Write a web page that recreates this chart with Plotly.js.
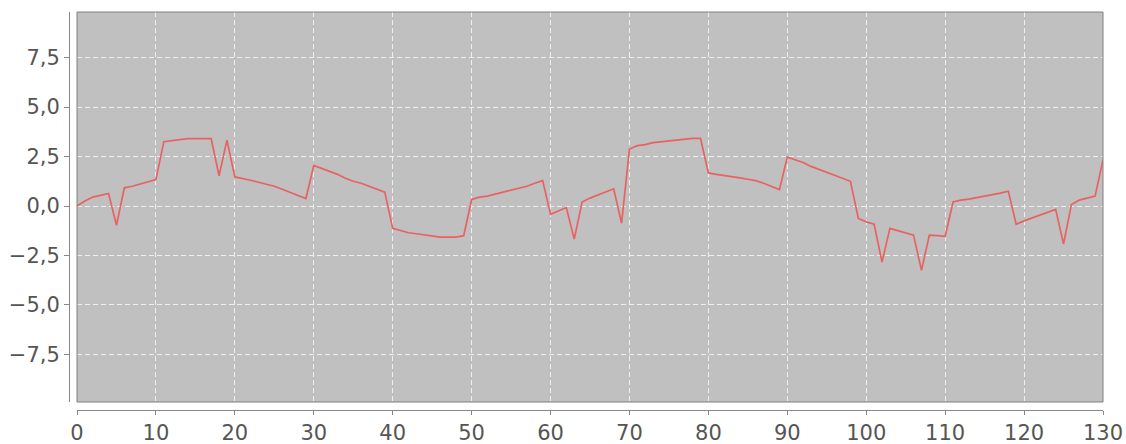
<!DOCTYPE html>
<html>
<head>
<meta charset="utf-8">
<script src="https://cdn.plot.ly/plotly-3.0.1.min.js"></script>
<style>html,body{margin:0;padding:0;background:#fff;}#chart{width:1126px;height:444px;}</style>
</head>
<body>
<div id="chart"></div>
<script>
const xValues = [];
for (let i = 0; i <= 130; i++) xValues.push(i);

const seriesValues = [
  0.0, 0.25, 0.45, 0.55, 0.63, -0.97, 0.92, 1.0, 1.1, 1.2,
  1.33, 3.25, 3.3, 3.35, 3.4, 3.4, 3.4, 3.4, 1.53, 3.33,
  1.47, 1.4, 1.3, 1.2, 1.1, 1.0, 0.85, 0.7, 0.55, 0.38,
  2.05, 1.9, 1.75, 1.6, 1.4, 1.25, 1.15, 1.0, 0.85, 0.7,
  -1.13, -1.25, -1.35, -1.4, -1.45, -1.5, -1.57, -1.57, -1.57, -1.5,
  0.33, 0.45, 0.5, 0.6, 0.7, 0.8, 0.9, 1.0, 1.15, 1.28,
  -0.42, -0.25, -0.08, -1.67, 0.2, 0.4, 0.55, 0.7, 0.87, -0.87,
  2.88, 3.05, 3.1, 3.2, 3.25, 3.3, 3.35, 3.4, 3.42, 3.42,
  1.67, 1.6, 1.55, 1.5, 1.42, 1.35, 1.28, 1.15, 1.0, 0.83,
  2.47, 2.35, 2.2, 2.0, 1.85, 1.7, 1.55, 1.4, 1.25, -0.63,
  -0.8, -0.92, -2.83, -1.13, -1.25, -1.35, -1.47, -3.25, -1.47, -1.5,
  -1.53, 0.2, 0.3, 0.35, 0.42, 0.5, 0.55, 0.65, 0.75, -0.92,
  -0.75, -0.6, -0.45, -0.3, -0.17, -1.92, 0.08, 0.3, 0.4, 0.5,
  2.33
];

const font = {family: 'DejaVu Sans, sans-serif', size: 21, color: '#555555'};

const trace = {
  x: xValues,
  y: seriesValues,
  type: 'scatter',
  mode: 'lines',
  line: {color: '#e86262', width: 1.7},
  hoverinfo: 'none'
};

const layout = {
  width: 1126,
  height: 444,
  margin: {l: 69, r: 23, t: 12, b: 34, pad: 0},
  paper_bgcolor: '#ffffff',
  plot_bgcolor: '#c0c0c0',
  showlegend: false,
  separators: ',.',
  font: font,
  xaxis: {
    domain: [8/1034, 1],
    anchor: 'free',
    position: 0,
    range: [0, 130],
    dtick: 10,
    tick0: 0,
    showgrid: true,
    gridcolor: '#eeeeee',
    griddash: '5px,3px',
    gridwidth: 1,
    zeroline: false,
    showline: true,
    linecolor: '#888888',
    linewidth: 1,
    ticks: 'outside',
    ticklen: 4,
    tickcolor: '#888888',
    tickfont: font,
    fixedrange: true
  },
  yaxis: {
    domain: [8/398, 1],
    anchor: 'free',
    position: 0,
    range: [-9.9, 9.8],
    dtick: 2.5,
    tick0: 0,
    tickformat: '.1f',
    showgrid: true,
    gridcolor: '#eeeeee',
    griddash: '5px,3px',
    gridwidth: 1,
    zeroline: false,
    showline: true,
    linecolor: '#888888',
    linewidth: 1,
    ticks: 'outside',
    ticklen: 5,
    tickcolor: '#888888',
    tickfont: font,
    fixedrange: true
  },
  shapes: [{
    type: 'rect', xref: 'x domain', yref: 'y domain',
    x0: 0, x1: 1, y0: 0, y1: 1,
    line: {color: '#808080', width: 1}, fillcolor: 'rgba(0,0,0,0)', layer: 'above'
  }]
};

Plotly.newPlot('chart', [trace], layout, {staticPlot: true, displayModeBar: false});
</script>
</body>
</html>
